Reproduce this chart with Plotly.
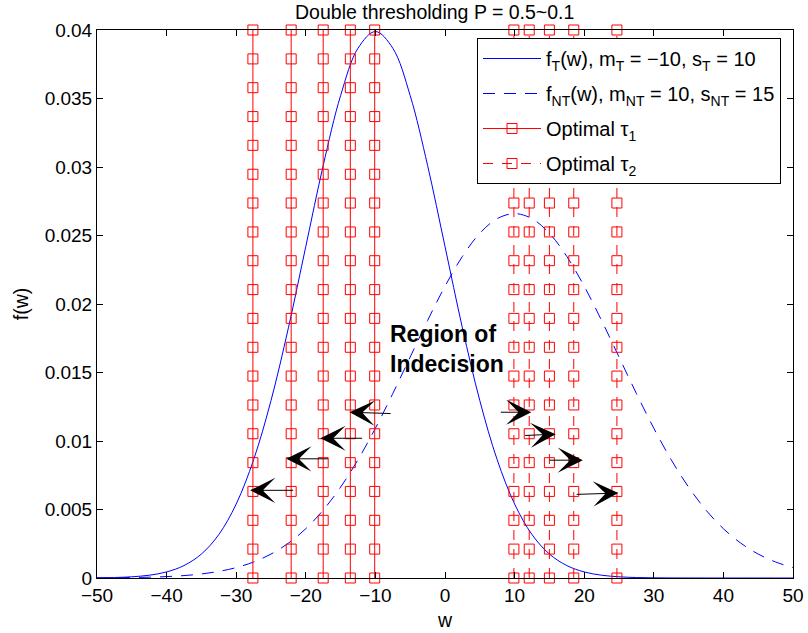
import plotly.graph_objects as go

# ---------------- data ----------------
w = [-50 + 2.5 * i for i in range(41)]
f_T = [0.0000134, 0.0000353, 0.0000873, 0.000203, 0.000443, 0.000909, 0.00175, 0.00317,
       0.00540, 0.00863, 0.01295, 0.01826, 0.02420, 0.03011, 0.03521, 0.03867, 0.03989,
       0.03867, 0.03521, 0.03011, 0.02420, 0.01826, 0.01295, 0.00863, 0.00540, 0.00317,
       0.00175, 0.000909, 0.000443, 0.000203, 0.0000873, 0.0000353, 0.0000134, 0.0000048,
       0.0000016, 0.0000005, 0.0000002, 0.0, 0.0, 0.0, 0.0]
f_NT = [0.0000089, 0.0000171, 0.0000320, 0.0000582, 0.0001028, 0.0001768, 0.0002955,
        0.0004804, 0.0007597, 0.0011686, 0.0017481, 0.0025435, 0.0035994, 0.0049535,
        0.0066318, 0.0086344, 0.0109339, 0.0134665, 0.0161313, 0.0187940, 0.0212964,
        0.0234709, 0.0251587, 0.0262292, 0.0265960, 0.0262292, 0.0251587, 0.0234709,
        0.0212964, 0.0187940, 0.0161313, 0.0134665, 0.0109339, 0.0086344, 0.0066318,
        0.0049535, 0.0035994, 0.0025435, 0.0017481, 0.0011686, 0.0007597]

tau1 = [-27.6, -22.1, -17.5, -13.6, -10.1]
tau2 = [9.9, 12.1, 15.0, 18.5, 24.7]
marker_levels = [0, 0.00211, 0.00421, 0.00632, 0.00842, 0.01053, 0.01263, 0.01474,
                 0.01684, 0.01895, 0.02105, 0.02316, 0.02526, 0.02737, 0.02947,
                 0.03158, 0.03368, 0.03579, 0.03789, 0.04]

# arrows: (tail_w, tail_f, head_w, head_f)
arrows_left = [(-7.6, 0.0120, -13.7, 0.0121), (-11.7, 0.0102, -17.9, 0.0102),
               (-16.6, 0.0087, -22.8, 0.0087), (-21.6, 0.0064, -28.0, 0.0064)]
arrows_right = [(7.8, 0.0121, 12.4, 0.0121), (11.3, 0.0104, 15.9, 0.0105),
                (14.8, 0.0086, 19.8, 0.0086), (18.7, 0.0061, 24.9, 0.0062)]

x_ticks = [-50, -40, -30, -20, -10, 0, 10, 20, 30, 40, 50]
x_ticktext = ["\u221250", "\u221240", "\u221230", "\u221220", "\u221210", "0", "10", "20", "30", "40", "50"]
y_ticks = [0, 0.005, 0.01, 0.015, 0.02, 0.025, 0.03, 0.035, 0.04]
y_ticktext = ["0", "0.005", "0.01", "0.015", "0.02", "0.025", "0.03", "0.035", "0.04"]


def vlines(taus, levels):
    xs, ys = [], []
    for t in taus:
        xs += [t] * len(levels) + [None]
        ys += list(levels) + [None]
    return xs, ys


FONT = "Liberation Sans, Arial, Helvetica, sans-serif"
RED = "#FF0000"
BLUE = "#0000FF"

fig = go.Figure()
fig.add_trace(go.Scatter(x=w, y=f_T, mode="lines", line=dict(color=BLUE, width=1, shape="spline"),
                         name="f<sub>T</sub>(w), m<sub>T</sub> = \u221210, s<sub>T</sub> = 10",
                         legendgroup="a"))
fig.add_trace(go.Scatter(x=w, y=f_NT, mode="lines",
                         line=dict(color=BLUE, width=1, shape="spline", dash="12px,9px"),
                         name="f<sub>NT</sub>(w), m<sub>NT</sub> = 10, s<sub>NT</sub> = 15",
                         legendgroup="b"))
x1, y1 = vlines(tau1, marker_levels)
fig.add_trace(go.Scatter(x=x1, y=y1, mode="lines+markers", cliponaxis=False,
                         line=dict(color=RED, width=1),
                         marker=dict(symbol="square-open", size=10, color=RED, line=dict(width=1)),
                         name="Optimal \u03c4<sub>1</sub>", legendgroup="c"))
x2, y2 = vlines(tau2, marker_levels)
fig.add_trace(go.Scatter(x=x2, y=y2, mode="lines+markers", cliponaxis=False,
                         line=dict(color=RED, width=1, dash="10px,9px"),
                         marker=dict(symbol="square-open", size=10, color=RED, line=dict(width=1)),
                         name="Optimal \u03c4<sub>2</sub>", legendgroup="d"))

annotations = []
for (tx, ty, hx, hy) in arrows_left + arrows_right:
    annotations.append(dict(x=hx, y=hy, ax=tx, ay=ty, xref="x", yref="y", axref="x", ayref="y",
                            showarrow=True, arrowhead=3, arrowsize=4.2, arrowwidth=1,
                            arrowcolor="black", text=""))
annotations.append(dict(x=-8.2, y=0.0167, xref="x", yref="y", xanchor="left", yanchor="middle",
                        align="left", showarrow=False, text="<b>Region of<br>Indecision</b>",
                        font=dict(family=FONT, size=23, color="black")))

fig.update_layout(
    width=808, height=633,
    margin=dict(l=97, r=15, t=30, b=55, autoexpand=False),
    paper_bgcolor="white", plot_bgcolor="white",
    font=dict(family=FONT, size=19, color="black"),
    title=dict(text="Double thresholding P = 0.5~0.1", x=0.538, xanchor="center",
               y=1 - 12 / 633, yanchor="middle", font=dict(family=FONT, size=19.5, color="black")),
    showlegend=True,
    legend=dict(x=(477 - 97) / 696, y=(578 - 38) / 548, xanchor="left", yanchor="top",
                bgcolor="white", bordercolor="black", borderwidth=1,
                font=dict(family=FONT, size=20, color="black"),
                itemwidth=58, tracegroupgap=6),
    annotations=annotations,
    xaxis=dict(range=[-50, 50], tickvals=x_ticks, ticktext=x_ticktext, ticks="inside",
               ticklen=6, tickcolor="black", showline=True, linecolor="black", linewidth=1,
               mirror="ticks", showgrid=False, zeroline=False, automargin=False,
               title=dict(text="w", standoff=8, font=dict(family=FONT, size=19.5))),
    yaxis=dict(range=[0, 0.04], tickvals=y_ticks, ticktext=y_ticktext, ticks="inside",
               ticklen=6, tickcolor="black", showline=True, linecolor="black", linewidth=1,
               mirror="ticks", showgrid=False, zeroline=False, automargin=False,
               title=dict(text="f(w)", standoff=10, font=dict(family=FONT, size=19.5))),
)

fig.write_html("out.html")
